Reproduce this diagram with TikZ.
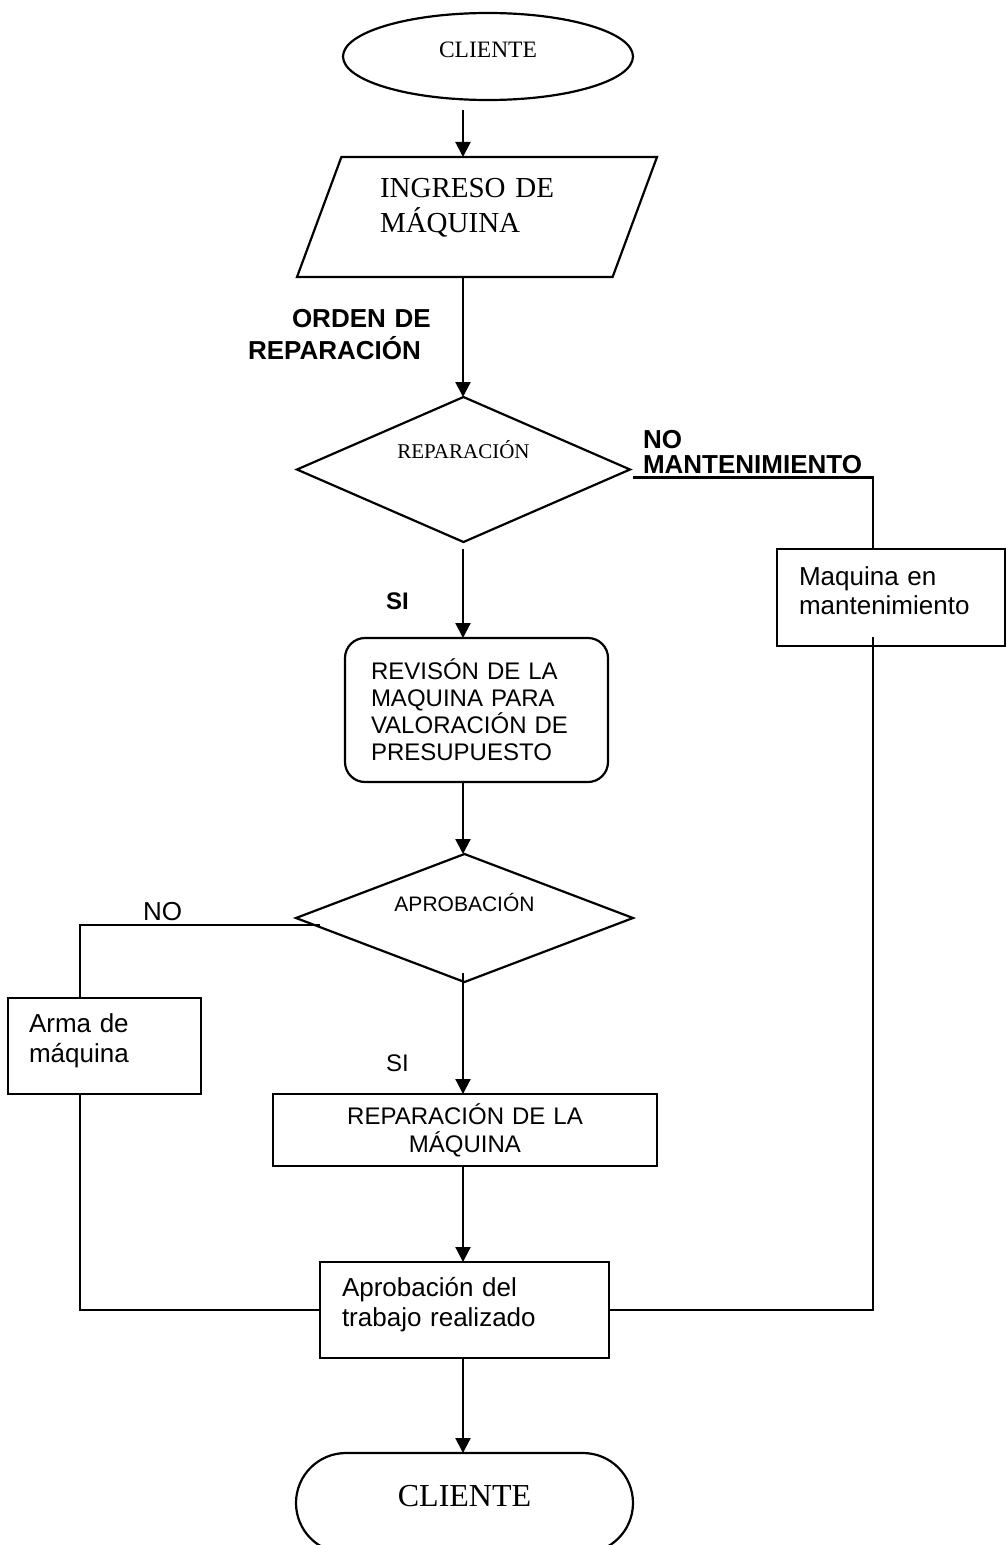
\documentclass[tikz,border=0pt]{standalone}
\usepackage{fontspec}
\setmainfont{Liberation Sans}
\newfontfamily\timesfont{Liberation Serif}
\usetikzlibrary{shapes.geometric,arrows.meta,calc}
\newcommand\padbottom[1]{\par\vspace*{#1}\hrule height 0pt\relax}
\begin{document}
\begin{tikzpicture}[x=1pt,y=-1pt,
  every node/.style={inner sep=0pt, outer sep=0pt},
  shp/.style={draw, line width=2.2pt},
  con/.style={line width=2.2pt},
  arr/.style={con, -{Triangle[length=15pt,width=15pt]}},
  lbl/.style={anchor=base west, align=left}
]
\useasboundingbox (0,0) rectangle (1006,1545);
\clip (0,0) rectangle (1006,1545);
\coordinate (cx) at (463,0);
\coordinate (rx) at (873,0);
\coordinate (lx) at (80,0);

% shapes
\node[shp, ellipse, minimum width=290pt, minimum height=87pt,
      font=\timesfont\fontsize{23.5}{27}\selectfont,
      text height=15.5pt, text depth=13.5pt] (start) at (488,56.5) {CLIENTE};

\node[shp, trapezium, trapezium left angle=60, trapezium right angle=120,
      trapezium stretches body, minimum width=360pt, minimum height=120pt,
      text width=194pt, align=left,
      font=\timesfont\fontsize{29}{35}\selectfont] (ingreso) at (477,217)
      {INGRESO DE\\MÁQUINA\padbottom{18pt}};

\node[shp, diamond, aspect=2.3, minimum width=333pt, minimum height=145pt,
      font=\timesfont\fontsize{21}{25}\selectfont,
      text height=14pt, text depth=36pt] (rep) at (463.5,469.5) {REPARACIÓN};

\node[shp, minimum width=228pt, minimum height=97pt, inner xsep=22pt,
      text width=184pt, align=left, font=\fontsize{26}{29}\selectfont]
      (mant) at (891,597.5) {Maquina en\\mantenimiento\padbottom{13pt}};

\node[shp, rounded corners=20pt, minimum width=263pt, minimum height=144pt,
      inner xsep=26pt, text width=211pt, align=left,
      font=\fontsize{24}{27}\selectfont] (rev) at (476.5,710)
      {REVISÓN DE LA\\MAQUINA PARA\\VALORACIÓN DE\\PRESUPUESTO};

\node[shp, diamond, aspect=2.63, minimum width=337pt, minimum height=128pt,
      font=\fontsize{21}{25}\selectfont,
      text height=15pt, text depth=29pt] (apd) at (464.5,918) {APROBACIÓN};

\node[shp, minimum width=193pt, minimum height=96pt, inner xsep=21pt,
      text width=151pt, align=left, font=\fontsize{26}{30}\selectfont]
      (arma) at (104.5,1046) {Arma de\\máquina\padbottom{10pt}};

\node[shp, minimum width=384pt, minimum height=72pt, inner xsep=10pt,
      text width=364pt, align=center, font=\fontsize{24}{28}\selectfont]
      (repbox) at (465,1130) {REPARACIÓN DE LA\\MÁQUINA};

\node[shp, minimum width=289pt, minimum height=96pt, inner xsep=22pt,
      text width=245pt, align=left, font=\fontsize{26}{30}\selectfont]
      (apr) at (464.5,1310) {Aprobación del\\trabajo realizado\padbottom{10pt}};

\node[shp, rounded corners=50pt, minimum width=337pt, minimum height=100pt,
      font=\timesfont\fontsize{32}{38}\selectfont,
      text height=21.2pt, text depth=15.2pt] (term) at (464.5,1503) {CLIENTE};

% labels
\node[lbl, text width=190pt, font=\bfseries\fontsize{26}{32}\selectfont]
      (orden) at (248,327) {\hspace*{44pt}ORDEN DE\\REPARACIÓN};
\node[lbl, text width=250pt, font=\bfseries\fontsize{26}{25}\selectfont]
      (nomant) at (643,448) {NO\\MANTENIMIENTO};
\node[lbl, font=\bfseries\fontsize{24}{28}\selectfont] (si1) at (386,609) {SI};
\node[lbl, font=\fontsize{26}{30}\selectfont] (no2) at (143,920) {NO};
\node[lbl, font=\fontsize{24}{28}\selectfont] (si2) at (386,1071) {SI};

% connectors
\draw[arr] ($(start.south -| cx)+(0,10)$) -- (ingreso.north -| cx);
\draw[arr] (ingreso.south -| cx) -- (rep.north -| cx);
\draw[arr] ($(rep.south -| cx)+(0,7)$) -- (rev.north -| cx);
\draw[arr] (rev.south -| cx) -- (apd.north -| cx);
\draw[con] ($(rep.east)+(3,8)$) -| (mant.north -| rx);
\draw[con] ($(mant.south -| rx)+(0,-9)$) |- (apr.east);
\draw[con] ($(apd.west)+(24,7)$) -| (arma.north -| lx);
\draw[con] (arma.south -| lx) |- (apr.west);
\draw[arr] ($(apd.south -| cx)+(0,-9)$) -- (repbox.north -| cx);
\draw[arr] (repbox.south -| cx) -- (apr.north -| cx);
\draw[arr] (apr.south -| cx) -- (term.north -| cx);
\end{tikzpicture}
\end{document}
